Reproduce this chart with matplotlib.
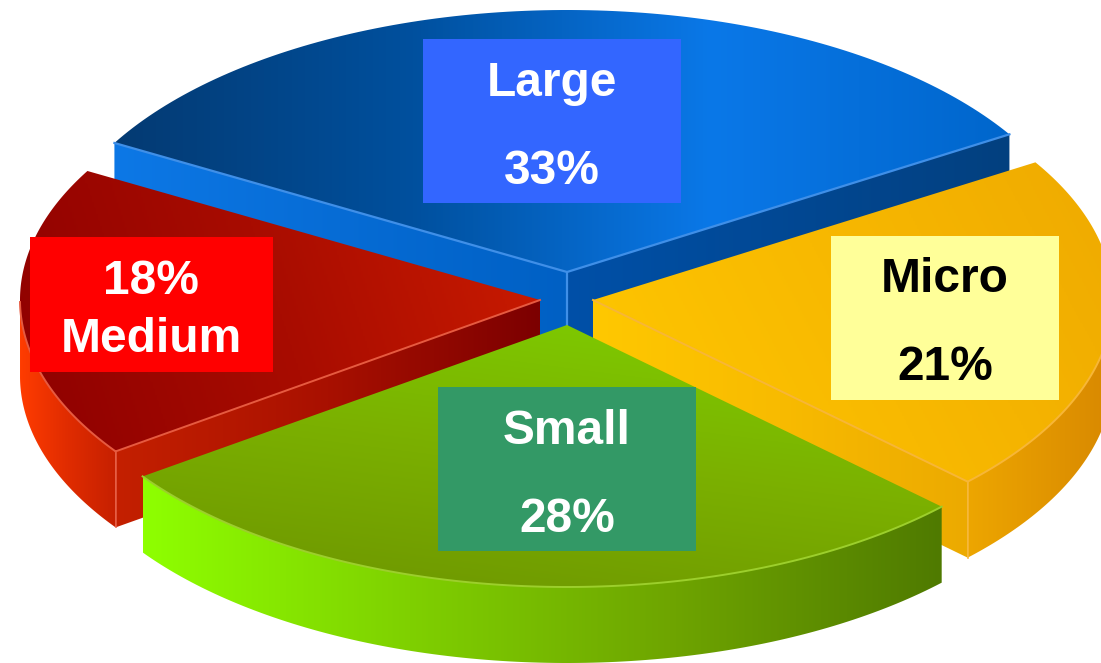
import numpy as np
from matplotlib import pyplot as plt
from matplotlib.colors import LinearSegmentedColormap
from matplotlib.patches import Polygon, Rectangle

categories = ['Large', 'Micro', 'Small', 'Medium']
shares = [33, 21, 28, 18]

#Layout in picture pixels
start_angle = 150.5
rx, ry = 520, 262
depth = 76
centers = [(567, 272), (593, 300), (567, 325), (540, 300)]
boxes = [(423, 39, 258, 164), (831, 236, 228, 164), (438, 387, 258, 164), (30, 237, 243, 135)]
box_colors = ['#3366ff', '#ffff99', '#339966', '#ff0000']
text_colors = ['white', 'black', 'white', 'white']
name_y = [84, 280, 431, 339]
share_y = [171, 368, 519, 282]
text_x = [552, 945, 567, 151]

#Gradients: top face, radial wall, outer wall, highlight
top_grad = [
    (0, ['#043a72', '#00509e', '#0a78e8', '#0066cc']),
    (-18, ['#ffc800', '#f8b900', '#efaa00']),
    (-68, ['#6d9500', '#7bb000', '#7fd000']),
    (-10, ['#8e0000', '#a80c00', '#cc1c00']),
]
side_grad = [
    None,
    (0, ['#ffc800', '#f8bb00', '#ecaa00']),
    None,
    (0, ['#c42000', '#a81000', '#7c0000']),
]
outer_grad = [
    None,
    (0, ['#eda600', '#d88800']),
    (0, ['#8eff00', '#7fd000', '#6ea400', '#4f7a00']),
    (0, ['#ff3c00', '#e02c00', '#c62000']),
]
edge_colors = ['#3f8fe8', '#f7b637', '#9ccf2c', '#e65a40']
order = [0, 3, 1, 2]

fig = plt.figure(figsize=(11.01, 6.63), dpi=100)
ax = fig.add_axes([0, 0, 1, 1])
z = [1]


def arc(center, a1, a2):
    t = np.radians(np.linspace(a1, a2, 120))
    return np.column_stack([center[0] + rx * np.cos(t), center[1] - ry * np.sin(t)])


def fill_grad(points, grad):
    angle, colors = grad
    cmap = LinearSegmentedColormap.from_list('g', colors)
    x0, y0 = points.min(axis=0)
    x1, y1 = points.max(axis=0)
    xx, yy = np.meshgrid(np.linspace(0, 1, 256), np.linspace(0, 1, 256))
    t = np.radians(angle)
    img = xx * np.cos(t) + yy * np.sin(t)
    im = ax.imshow(img, extent=(x0, x1, y1, y0), cmap=cmap, aspect='auto',
                   interpolation='bilinear', zorder=z[0])
    clip = Polygon(points, closed=True, transform=ax.transData)
    im.set_clip_path(clip)
    z[0] += 1


def drop(points):
    return points + np.array([0, depth])


def wall(edge, grad):
    fill_grad(np.vstack([edge, drop(edge)[::-1]]), grad)


angles = start_angle - np.concatenate([[0], np.cumsum(shares)]) * 3.6

for i in order:
    a1, a2 = angles[i], angles[i + 1]
    c = centers[i]
    rim = arc(c, a1, a2)
    apex = np.array([c])
    front = None

    if i == 0:
        #Both cut faces of the top slice can be seen
        wall(np.vstack([rim[:1], apex]), (0, ['#0d78e6', '#0060c4']))
        wall(np.vstack([apex, rim[-1:]]), (0, ['#0050a8', '#03407f']))
        ax.plot([c[0], c[0]], [c[1], c[1] + depth], color=edge_colors[i], lw=1.6, zorder=z[0])
        z[0] += 1
    elif i == 1:
        wall(np.vstack([apex, rim[-1:]]), side_grad[i])
    elif i == 3:
        wall(np.vstack([rim[:1], apex]), side_grad[i])

    if outer_grad[i] is not None:
        #Only the front half of the rim has a wall
        front = rim[np.sin(np.radians(np.linspace(a1, a2, 120))) <= 0]
        wall(front, outer_grad[i])

    fill_grad(np.vstack([apex, rim]), top_grad[i])

    #Thin light edges
    if i == 0:
        ax.plot(*np.vstack([rim[:1], apex, rim[-1:]]).T, color=edge_colors[i], lw=1.6, zorder=z[0])
    elif i == 1:
        corner = rim[-1]
    elif i == 3:
        corner = rim[0]
    if i == 1 or i == 3:
        ax.plot(*np.vstack([apex, [corner]]).T, color=edge_colors[i], lw=1.4, zorder=z[0])
        ax.plot([corner[0], corner[0]], [corner[1], corner[1] + depth],
                color=edge_colors[i], lw=1.2, zorder=z[0])
    if front is not None:
        ax.plot(*front.T, color=edge_colors[i], lw=1.4, zorder=z[0])
    z[0] += 1

#Label boxes
for i, name in enumerate(categories):
    x, y, w, h = boxes[i]
    ax.add_patch(Rectangle((x, y), w, h, color=box_colors[i], lw=0, zorder=50))
    ax.text(text_x[i], name_y[i], name, color=text_colors[i], fontsize=34.5, fontweight='bold',
            family='Liberation Sans', ha='center', va='center', zorder=51)
    ax.text(text_x[i], share_y[i], f'{shares[i]}%', color=text_colors[i], fontsize=34.5,
            fontweight='bold', family='Liberation Sans', ha='center', va='center', zorder=51)

ax.set_xlim(0, 1101)
ax.set_ylim(663, 0)
ax.axis('off')
fig.savefig('out.png', dpi=100)
